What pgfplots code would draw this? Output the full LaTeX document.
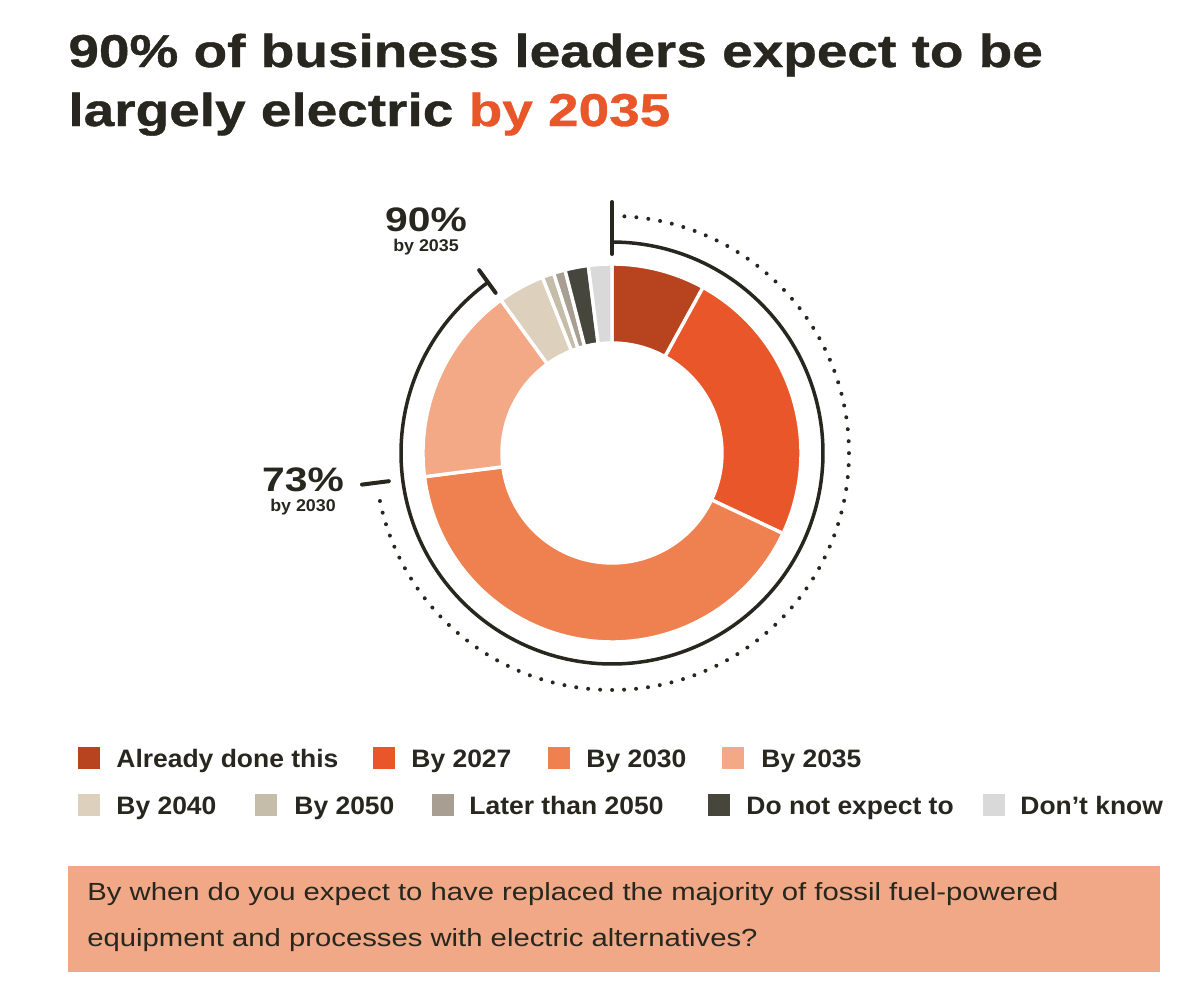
\documentclass[border=0pt]{standalone}
\usepackage{fontspec}
\setmainfont{Liberation Sans}
\newfontfamily\titlefont[FakeStretch=1.195, FakeBold=0.8]{Liberation Sans}
\newfontfamily\calfont[FakeStretch=1.2]{Liberation Sans}
\newfontfamily\legfont[FakeStretch=1.05]{Liberation Sans}
\newfontfamily\boxfont[FakeStretch=1.18]{Liberation Sans}
\usepackage{pgfplots}
\pgfplotsset{compat=1.18}

\definecolor{cdark}{HTML}{27271F}
\definecolor{corange}{HTML}{E8562A}
\definecolor{cA}{HTML}{B8431F}
\definecolor{cB}{HTML}{E8562A}
\definecolor{cC}{HTML}{EF8150}
\definecolor{cD}{HTML}{F3A886}
\definecolor{cE}{HTML}{DDD0BD}
\definecolor{cF}{HTML}{C5BCAA}
\definecolor{cG}{HTML}{A89F92}
\definecolor{cH}{HTML}{46463C}
\definecolor{cI}{HTML}{D9D9D9}
\definecolor{cbox}{HTML}{F0A886}

% shares (percent), clockwise from 12 o'clock
\def\vA{8}  % Already done this
\def\vB{24} % By 2027
\def\vC{41} % By 2030
\def\vD{17} % By 2035
\def\vE{4}  % By 2040
\def\vF{1}  % By 2050
\def\vG{1}  % Later than 2050
\def\vH{2}  % Do not expect to
\def\vI{2}  % Don't know
\pgfmathsetmacro\bA{0}
\pgfmathsetmacro\bB{\bA+3.6*\vA}
\pgfmathsetmacro\bC{\bB+3.6*\vB}
\pgfmathsetmacro\bD{\bC+3.6*\vC}
\pgfmathsetmacro\bE{\bD+3.6*\vD}
\pgfmathsetmacro\bF{\bE+3.6*\vE}
\pgfmathsetmacro\bG{\bF+3.6*\vF}
\pgfmathsetmacro\bH{\bG+3.6*\vG}
\pgfmathsetmacro\bI{\bH+3.6*\vH}
\pgfmathsetmacro\bJ{\bI+3.6*\vI}

% annulus segment from angle #1 to #2 (degrees clockwise from top)
\newcommand\seg[3]{%
\addplot[fill=#3, draw=white, line width=1.7pt, domain=0:3, samples=181, variable=\t]
 ({612+((\t<=1) ? 189 : ((\t<=2) ? (189-79*(\t-1)) : 110))*sin(((\t<=1) ? (#1+(#2-#1)*\t) : ((\t<=2) ? #2 : (#2-(#2-#1)*(\t-2)))))},
  {453-((\t<=1) ? 189 : ((\t<=2) ? (189-79*(\t-1)) : 110))*cos(((\t<=1) ? (#1+(#2-#1)*\t) : ((\t<=2) ? #2 : (#2-(#2-#1)*(\t-2)))))}) -- cycle;
}
\newcommand\legsq[3]{% x-left, y-center, colour
\addplot[color=#3, only marks, mark=square*, mark size=5.25pt, mark options={draw=#3, fill=#3, line width=0pt}] coordinates {(#1+10.5,#2)};
}

\begin{document}
\begin{tikzpicture}
\begin{axis}[
  scale only axis, width=600pt, height=501pt,
  xmin=0, xmax=1200, ymin=0, ymax=1002, y dir=reverse,
  hide axis, clip=false]
\path (rel axis cs:0,0) -- (rel axis cs:1,1);

% title
\node[anchor=base west, inner sep=0pt, text=cdark, font=\titlefont\bfseries\fontsize{23}{28}\selectfont] at (axis cs:68,67) {90\% of business leaders expect to be};
\node[anchor=base west, inner sep=0pt, text=cdark, font=\titlefont\bfseries\fontsize{23}{28}\selectfont] at (axis cs:68,126) {largely electric \textcolor{corange}{by 2035}};

% donut
\seg{\bA}{\bB}{cA}
\seg{\bB}{\bC}{cB}
\seg{\bC}{\bD}{cC}
\seg{\bD}{\bE}{cD}
\seg{\bE}{\bF}{cE}
\seg{\bF}{\bG}{cF}
\seg{\bG}{\bH}{cG}
\seg{\bH}{\bI}{cH}
\seg{\bI}{\bJ}{cI}

% solid ring: up to 90% (by 2035)
\addplot[cdark, line width=1.75pt, domain=0:\bE, samples=200, variable=\t] ({612+211*sin(\t)},{453-211*cos(\t)});
% dotted ring: up to 73% (by 2030)
\addplot[cdark, line width=2pt, line cap=round, dash pattern=on 0pt off 6pt, domain=3:\bD-2, samples=200, variable=\t] ({612+237*sin(\t)},{453-237*cos(\t)});
% ticks
\addplot[cdark, line width=2pt, line cap=round] coordinates {(612,202) (612,254)};
\addplot[cdark, line width=2pt, line cap=round, domain=198:226, samples=2, variable=\t] ({612+\t*sin(\bE)},{453-\t*cos(\bE)});
\addplot[cdark, line width=2pt, line cap=round, domain=225:252, samples=2, variable=\t] ({612+\t*sin(\bD)},{453-\t*cos(\bD)});

% callout labels
\node[anchor=base, inner sep=0pt, text=cdark, font=\calfont\bfseries\fontsize{17}{20}\selectfont] at (axis cs:426,231) {90\%};
\node[anchor=base, inner sep=0pt, text=cdark, font=\legfont\bfseries\fontsize{8.5}{10}\selectfont] at (axis cs:426,251) {by 2035};
\node[anchor=base, inner sep=0pt, text=cdark, font=\calfont\bfseries\fontsize{17}{20}\selectfont] at (axis cs:303,491) {73\%};
\node[anchor=base, inner sep=0pt, text=cdark, font=\legfont\bfseries\fontsize{8.5}{10}\selectfont] at (axis cs:303,511) {by 2030};

% legend
\legsq{78}{758}{cA}
\legsq{373}{758}{cB}
\legsq{548}{758}{cC}
\legsq{722}{758}{cD}
\legsq{78}{805}{cE}
\legsq{255}{805}{cF}
\legsq{432}{805}{cG}
\legsq{708}{805}{cH}
\legsq{983}{805}{cI}
\begin{scope}[every node/.style={anchor=base west, inner sep=0pt, text=cdark, font=\legfont\bfseries\fontsize{12.6}{15}\selectfont}]
\node at (axis cs:116,767) {Already done this};
\node at (axis cs:411,767) {By 2027};
\node at (axis cs:586,767) {By 2030};
\node at (axis cs:761,767) {By 2035};
\node at (axis cs:116,814) {By 2040};
\node at (axis cs:294,814) {By 2050};
\node at (axis cs:469,814) {Later than 2050};
\node at (axis cs:746,814) {Do not expect to};
\node at (axis cs:1020,814) {Don’t know};
\end{scope}

% question box
\addplot[fill=cbox, draw=none] coordinates {(68,866) (1160,866) (1160,972) (68,972)} -- cycle;
\node[anchor=base west, inner sep=0pt, text=cdark, font=\boxfont\fontsize{12.4}{14}\selectfont] at (axis cs:87,900) {By when do you expect to have replaced the majority of fossil fuel-powered};
\node[anchor=base west, inner sep=0pt, text=cdark, font=\boxfont\fontsize{12.4}{14}\selectfont] at (axis cs:87,946) {equipment and processes with electric alternatives?};
\end{axis}
\end{tikzpicture}
\end{document}
